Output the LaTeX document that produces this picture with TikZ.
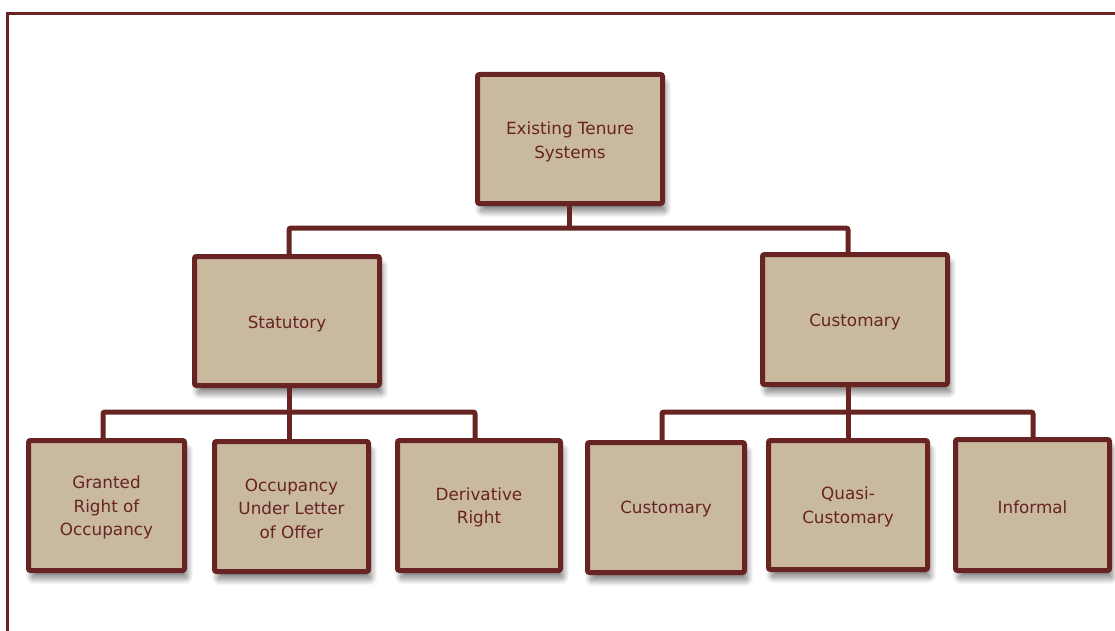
\documentclass[tikz,border=0pt]{standalone}
\usepackage{fontspec}
\setmainfont{DejaVu Sans}
\usetikzlibrary{shadows.blur}
\definecolor{maroon}{RGB}{104,35,35}
\definecolor{tan}{RGB}{201,185,159}
\begin{document}
\begin{tikzpicture}[x=1pt,y=-1pt,
  box/.style={draw=maroon, fill=tan, line width=5pt, rounded corners=2pt, inner sep=0pt,
    blur shadow={shadow xshift=3pt, shadow yshift=-8pt, shadow blur steps=12, shadow opacity=50, shadow blur radius=6pt}},
  txt/.style={text=maroon, align=center, inner sep=0pt,
    font=\fontsize{16.8}{23.5}\selectfont},
  conn/.style={draw=maroon, line width=5pt, rounded corners=2pt},
  frame/.style={draw=maroon, line width=2.6pt}]
\useasboundingbox (0,0) rectangle (1115,631);
\draw[frame] (7.3,631) -- (7.3,13.6) -- (1116,13.6);

\node[box, minimum width=185, minimum height=129] (top) at (570,139) {};
\node[box, minimum width=185, minimum height=129] (stat) at (287,321) {};
\node[box, minimum width=185, minimum height=130] (cust) at (855,319.5) {};
\node[box, minimum width=156, minimum height=130] (grant) at (106.5,505.5) {};
\node[box, minimum width=154, minimum height=130] (occ) at (291.5,506.5) {};
\node[box, minimum width=163, minimum height=130] (deriv) at (479,505.5) {};
\node[box, minimum width=157, minimum height=130] (cust2) at (666,507.5) {};
\node[box, minimum width=159, minimum height=129] (quasi) at (848,505) {};
\node[box, minimum width=154, minimum height=131] (inf) at (1032.5,505) {};

\node[txt] (topt) at ([yshift=-3pt]top.center) {Existing Tenure\\Systems};
\node[txt] (statt) at ([yshift=-3pt]stat.center) {Statutory};
\node[txt] (custt) at ([yshift=-3pt]cust.center) {Customary};
\node[txt] (grantt) at ([yshift=-2pt]grant.center) {Granted\\Right of\\Occupancy};
\node[txt] (occt) at ([yshift=-2pt]occ.center) {Occupancy\\Under Letter\\of Offer};
\node[txt] (derivt) at ([yshift=-2pt]deriv.center) {Derivative\\Right};
\node[txt] (cust2t) at ([yshift=-2pt]cust2.center) {Customary};
\node[txt] (quasit) at ([yshift=-2pt]quasi.center) {Quasi-\\Customary};
\node[txt] (inft) at ([yshift=-2pt]inf.center) {Informal};

\coordinate (j0) at (569,228);
\coordinate (j1) at (289,228);
\coordinate (j2) at (848,228);
\coordinate (s0) at (289,412);
\coordinate (s1) at (103,412);
\coordinate (s2) at (475,412);
\coordinate (c0) at (848,412);
\coordinate (c1) at (662,412);
\coordinate (c2) at (1033,412);

\draw[conn] (top.south -| j0) -- (j0);
\draw[conn] (stat.north -| j1) -- (j1) -- (j2) -- (cust.north -| j2);
\draw[conn] (stat.south -| s0) -- (s0);
\draw[conn] (grant.north -| s1) -- (s1) -- (s2) -- (deriv.north -| s2);
\draw[conn] (occ.north -| s0) -- (s0);
\draw[conn] (cust.south -| c0) -- (c0);
\draw[conn] (cust2.north -| c1) -- (c1) -- (c2) -- (inf.north -| c2);
\draw[conn] (quasi.north -| c0) -- (c0);
\end{tikzpicture}
\end{document}
